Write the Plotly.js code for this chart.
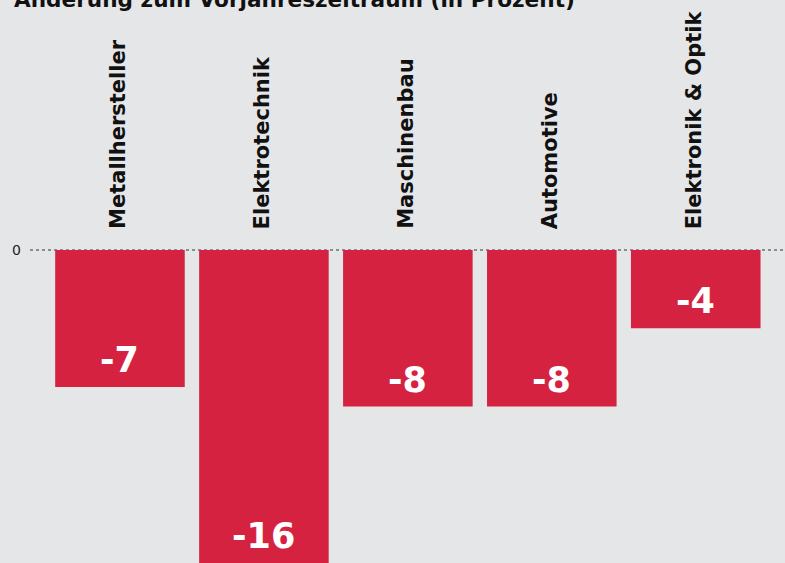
<!DOCTYPE html>
<html>
<head>
<meta charset="utf-8">
<script src="https://cdn.plot.ly/plotly-3.0.1.min.js"></script>
<style>html,body{margin:0;padding:0;background:#e5e6e8;}#chart{width:785px;height:563px;}</style>
</head>
<body>
<div id="chart"></div>
<script>
const categories = ["Metallhersteller", "Elektrotechnik", "Maschinenbau", "Automotive", "Elektronik & Optik"];
const values = [-7, -16, -8, -8, -4];
const valueLabels = ["-7", "-16", "-8", "-8", "-4"];
const titleText = "Änderung zum Vorjahreszeitraum (in Prozent)";
const yTickVals = [0];
const yTickText = ["0"];

const barColor = "#d42240";
const bg = "#e5e6e8";
const fam = "'DejaVu Sans', sans-serif";

const trace = {
  type: "bar",
  x: categories,
  y: values,
  marker: {color: barColor, line: {width: 0}},
  width: 0.9,
  hoverinfo: "none"
};

const annotations = [];
categories.forEach((c, i) => {
  annotations.push({
    x: c, y: 0, xref: "x", yref: "y",
    text: c, textangle: -90,
    xanchor: "center", yanchor: "bottom",
    yshift: 19, xshift: -2, showarrow: false,
    font: {family: fam, size: 21, color: "#111111", weight: 700}
  });
  annotations.push({
    x: c, y: values[i], xref: "x", yref: "y",
    text: valueLabels[i],
    xanchor: "center", yanchor: "bottom",
    yshift: 5, showarrow: false,
    font: {family: fam, size: 35, color: "#ffffff", weight: 700}
  });
});
annotations.push({
  x: -0.024, y: 1, xref: "paper", yref: "paper",
  xanchor: "left", yanchor: "middle", yshift: 1,
  text: titleText, showarrow: false,
  font: {family: fam, size: 21.6, color: "#111111", weight: 700}
});

const layout = {
  width: 785, height: 563,
  paper_bgcolor: bg, plot_bgcolor: bg,
  margin: {l: 30, r: 0, t: 0, b: 0},
  showlegend: false,
  bargap: 0.1,
  xaxis: {range: [-0.625, 4.62], showticklabels: false, showgrid: false, zeroline: false, showline: false, ticks: ""},
  yaxis: {range: [-16, 12.78], tickvals: yTickVals, ticktext: yTickText, showgrid: false, zeroline: false,
          showline: false, ticks: "", ticklabelstandoff: 8,
          tickfont: {family: "'DejaVu Sans', sans-serif", size: 14, color: "#222222"}},
  shapes: [{type: "line", xref: "paper", yref: "y", x0: 0, x1: 1, y0: 0, y1: 0, layer: "below",
            line: {color: "#333333", width: 1, dash: "dot"}}],
  annotations: annotations
};

Plotly.newPlot("chart", [trace], layout, {displayModeBar: false, staticPlot: true});
</script>
</body>
</html>
